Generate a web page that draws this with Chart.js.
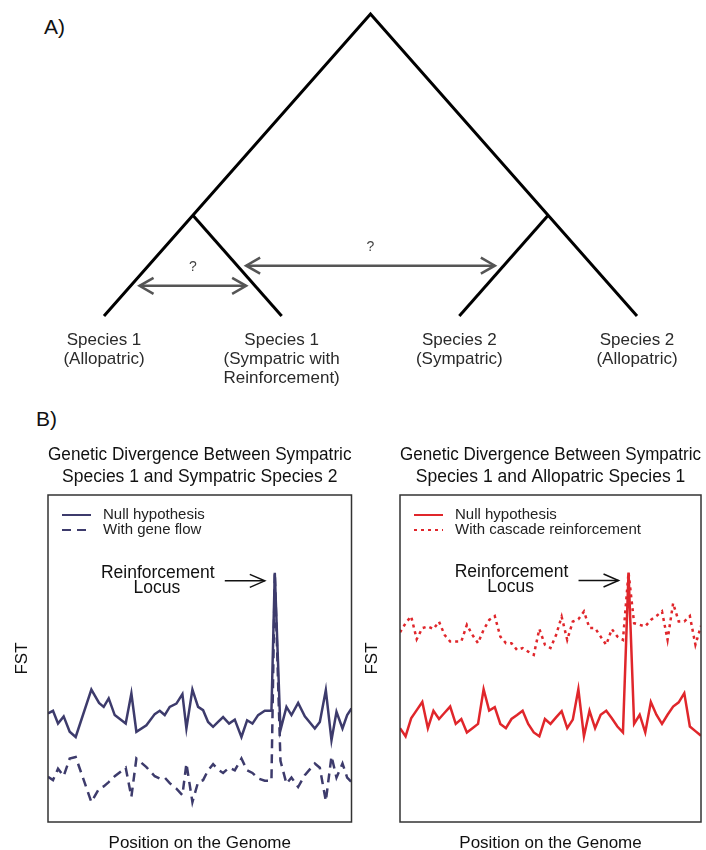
<!DOCTYPE html>
<html>
<head>
<meta charset="utf-8">
<script src="https://cdn.jsdelivr.net/npm/chart.js@4.4.1/dist/chart.umd.min.js"></script>
<style>
  html, body { margin: 0; padding: 0; background: #fff; overflow: hidden; }
  body { width: 706px; height: 850px; position: relative; font-family: "Liberation Sans", Arial, sans-serif; }
  .panel { position: absolute; font-size: 21px; line-height: 21px; color: #111; }
  canvas { position: absolute; }
</style>
</head>
<body>
<div class="panel" style="left:44px; top:16px;">A)</div>
<div class="panel" style="left:36px; top:408px;">B)</div>
<canvas id="tree" width="706" height="400" style="left:0; top:0; width:706px; height:400px;"></canvas>
<canvas id="left" width="356" height="414" style="left:0; top:440px; width:356px; height:414px;"></canvas>
<canvas id="right" width="354" height="414" style="left:352px; top:440px; width:354px; height:414px;"></canvas>
<script>
// ---------- panel A: tree (leaf positions 1..4, height in branch units) ----------
var leafPos = [1, 2, 3, 4];
var leafLabels = [
    ["Species 1", "(Allopatric)"],
    ["Species 1", "(Sympatric with", "Reinforcement)"],
    ["Species 2", "(Sympatric)"],
    ["Species 2", "(Allopatric)"]
];
var outerX = [1, 2.5, 4];
var outerY = [0, 1.5, 0];
var sisterLeftX = [1.5, 2];
var sisterLeftY = [0.5, 0];
var sisterRightX = [3.5, 3];
var sisterRightY = [0.5, 0];
var arrowShortX = [1.2, 1.8];
var arrowShortY = [0.15, 0.15];
var arrowLongX = [1.8, 3.2];
var arrowLongY = [0.25, 0.25];

// ---------- panel B, left: sympatric sp.1 vs sympatric sp.2 ----------
var posLeft = [0, 15, 30, 47, 65, 83, 130, 153, 167, 182, 200, 233, 250, 265, 295, 320, 335, 350, 365, 385,
    403, 415, 433, 450, 465, 480, 495, 510, 525, 543, 560, 580, 597, 613, 630, 650, 670, 680, 697, 715,
    730, 750, 770, 800, 815, 833, 850, 865, 883, 897, 910];
var nullLeft = [0.332, 0.340, 0.301, 0.323, 0.276, 0.260, 0.405, 0.364, 0.352, 0.378, 0.327, 0.301, 0.393, 0.276, 0.296, 0.330, 0.340, 0.327, 0.352, 0.362,
    0.391, 0.286, 0.405, 0.352, 0.342, 0.306, 0.291, 0.306, 0.321, 0.301, 0.313, 0.260, 0.311, 0.301, 0.327, 0.340, 0.340, 0.762, 0.281, 0.352,
    0.327, 0.364, 0.323, 0.286, 0.306, 0.403, 0.250, 0.337, 0.286, 0.327, 0.347];
var geneFlow = [0.138, 0.128, 0.163, 0.140, 0.194, 0.199, 0.061, 0.102, 0.109, 0.122, 0.140, 0.166, 0.077, 0.194, 0.168, 0.140, 0.133, 0.136, 0.119, 0.102,
    0.082, 0.179, 0.061, 0.122, 0.128, 0.158, 0.177, 0.160, 0.150, 0.166, 0.158, 0.194, 0.158, 0.150, 0.133, 0.126, 0.126, 0.762, 0.187, 0.117,
    0.136, 0.107, 0.143, 0.179, 0.166, 0.064, 0.201, 0.136, 0.179, 0.136, 0.122];

// ---------- panel B, right: sympatric sp.1 vs allopatric sp.1 ----------
var posRight = [0, 1, 2, 3, 4, 5, 6, 7, 8, 9, 10, 11, 12, 13, 14, 15, 16, 17, 18, 19, 20, 21, 22, 23, 24, 25, 26, 27,
    28, 29, 30, 31, 32, 33, 34, 35, 36, 37, 38, 39, 40, 41, 42, 43, 44, 45, 46, 47, 48, 49, 50, 51, 52, 53, 54];
var nullRight = [0.287, 0.262, 0.317, 0.342, 0.367, 0.287, 0.340, 0.315, 0.334, 0.353, 0.300, 0.315, 0.274, 0.287, 0.300, 0.406, 0.341, 0.351, 0.300, 0.287,
    0.315, 0.327, 0.340, 0.300, 0.274, 0.262, 0.315, 0.300, 0.320, 0.339, 0.287, 0.313, 0.406, 0.262, 0.340, 0.287, 0.328, 0.340, 0.317, 0.292,
    0.274, 0.763, 0.300, 0.328, 0.274, 0.367, 0.328, 0.300, 0.328, 0.353, 0.366, 0.394, 0.292, 0.278, 0.264];
var cascade = [0.580, 0.608, 0.629, 0.559, 0.593, 0.598, 0.590, 0.613, 0.572, 0.552, 0.552, 0.552, 0.603, 0.572, 0.547, 0.588, 0.618, 0.630, 0.567, 0.547,
    0.547, 0.526, 0.532, 0.521, 0.511, 0.590, 0.542, 0.532, 0.572, 0.628, 0.557, 0.613, 0.620, 0.644, 0.593, 0.593, 0.567, 0.542, 0.590, 0.567,
    0.557, 0.763, 0.608, 0.603, 0.598, 0.618, 0.630, 0.644, 0.557, 0.669, 0.613, 0.613, 0.630, 0.542, 0.600];

var FONT = "'Liberation Sans', Arial, sans-serif";
Chart.defaults.font.family = FONT;
Chart.defaults.color = "#111";

function pts(xs, ys) {
    return xs.map(function (x, i) { return { x: x, y: ys[i] }; });
}

function chevron(ctx, x, y, dir, len, half) {
    ctx.beginPath();
    ctx.moveTo(x + dir * len, y - half);
    ctx.lineTo(x, y);
    ctx.lineTo(x + dir * len, y + half);
    ctx.stroke();
}

// arrow heads, "?" marks and species names for the tree
var treeDecor = {
    id: "treeDecor",
    afterDraw: function (chart) {
        var ctx = chart.ctx, xs = chart.scales.x, ys = chart.scales.y;
        ctx.save();
        chart.data.datasets.forEach(function (ds, i) {
            if (!ds.arrow) return;
            var el = chart.getDatasetMeta(i).data;
            var a = el[0], b = el[el.length - 1];
            ctx.strokeStyle = ds.borderColor;
            ctx.lineWidth = ds.borderWidth;
            ctx.lineJoin = "miter";
            chevron(ctx, a.x, a.y, 1, 14, 8);
            chevron(ctx, b.x, b.y, -1, 14, 8);
            ctx.fillStyle = "#444";
            ctx.font = "14px " + FONT;
            ctx.textAlign = "center";
            ctx.textBaseline = "middle";
            ctx.fillText(ds.note, (a.x + b.x) / 2, a.y - 19);
        });
        ctx.fillStyle = "#2a2a2a";
        ctx.font = "17px " + FONT;
        ctx.textAlign = "center";
        ctx.textBaseline = "middle";
        var y0 = ys.getPixelForValue(0);
        leafPos.forEach(function (p, i) {
            var x = xs.getPixelForValue(p);
            leafLabels[i].forEach(function (line, j) {
                ctx.fillText(line, x, y0 + 24 + j * 19);
            });
        });
        ctx.restore();
    }
};

function branch(xs, ys) {
    return { data: pts(xs, ys), showLine: true, borderColor: "#000", borderWidth: 3, pointRadius: 0, clip: false };
}
function arrow(xs, ys) {
    return { data: pts(xs, ys), showLine: true, borderColor: "#555", borderWidth: 2.5, pointRadius: 0, clip: false, arrow: true, note: "?" };
}

new Chart(document.getElementById("tree"), {
    type: "scatter",
    data: {
        datasets: [
            branch(outerX, outerY),
            branch(sisterLeftX, sisterLeftY),
            branch(sisterRightX, sisterRightY),
            arrow(arrowShortX, arrowShortY),
            arrow(arrowLongX, arrowLongY)
        ]
    },
    options: {
        responsive: false,
        animation: false,
        events: [],
        layout: { padding: { left: 104, right: 69, top: 14, bottom: 84 } },
        scales: {
            x: { type: "linear", display: false, min: 1, max: 4 },
            y: { type: "linear", display: false, min: 0, max: 1.5 }
        },
        plugins: { legend: { display: false }, tooltip: { enabled: false } }
    },
    plugins: [treeDecor]
});

// box, in-plot legend and the reinforcement locus note
var plotDecor = {
    id: "plotDecor",
    afterDraw: function (chart) {
        var ctx = chart.ctx, a = chart.chartArea;
        ctx.save();
        ctx.strokeStyle = "#333";
        ctx.lineWidth = 1.5;
        ctx.strokeRect(a.left, a.top, a.right - a.left, a.bottom - a.top);

        ctx.font = "15px " + FONT;
        ctx.textAlign = "left";
        ctx.textBaseline = "middle";
        chart.data.datasets.forEach(function (ds, i) {
            var y = a.top + 20 + i * 15, x = a.left + 14;
            ctx.beginPath();
            ctx.setLineDash(ds.borderDash || []);
            ctx.strokeStyle = ds.borderColor;
            ctx.lineWidth = 2;
            ctx.moveTo(x, y);
            ctx.lineTo(x + 29, y);
            ctx.stroke();
            ctx.setLineDash([]);
            ctx.fillStyle = "#222";
            ctx.fillText(ds.label, x + 41, y);
        });

        var d = chart.data.datasets[0].data, k = 0;
        d.forEach(function (p, i) { if (p.y > d[k].y) k = i; });
        var pk = chart.getDatasetMeta(0).data[k];
        ctx.fillStyle = "#111";
        ctx.font = "17.5px " + FONT;
        ctx.textAlign = "center";
        ctx.fillText("Reinforcement", pk.x - 117, pk.y);
        ctx.fillText("Locus", pk.x - 118, pk.y + 15);
        ctx.strokeStyle = "#111";
        ctx.lineWidth = 1.5;
        ctx.beginPath();
        ctx.moveTo(pk.x - 50, pk.y + 8);
        ctx.lineTo(pk.x - 10, pk.y + 8);
        ctx.stroke();
        chevron(ctx, pk.x - 10, pk.y + 8, -1, 15, 6.5);
        ctx.restore();
    }
};

function genomePlot(id, title, pos, xMax, sets, fstPad, padRight) {
    return new Chart(document.getElementById(id), {
        type: "line",
        data: {
            datasets: sets.map(function (s) {
                return {
                    label: s.label, data: pts(pos, s.values), borderColor: s.color, borderWidth: 2.5,
                    borderDash: s.dash, pointRadius: 0, tension: 0, borderJoinStyle: "miter"
                };
            })
        },
        options: {
            responsive: false,
            animation: false,
            events: [],
            layout: { padding: { left: 0, right: padRight, top: 0, bottom: 0 } },
            scales: {
                x: {
                    type: "linear", min: 0, max: xMax,
                    ticks: { display: false }, grid: { display: false }, border: { display: false },
                    title: { display: true, text: "Position on the Genome", font: { size: 17 }, padding: { top: 0, bottom: 0.8 } },
                    afterFit: function (s) { s.height = 32; }
                },
                y: {
                    min: 0, max: 1,
                    ticks: { display: false }, grid: { display: false }, border: { display: false },
                    title: { display: true, text: "FST", font: { size: 17 }, padding: { top: fstPad, bottom: 0 } },
                    afterFit: function (s) { s.width = 48; }
                }
            },
            plugins: {
                legend: { display: false },
                tooltip: { enabled: false },
                title: {
                    display: true, text: title, fullSize: false,
                    font: { size: 17.5, weight: "normal", lineHeight: 22 / 17.5 },
                    padding: { top: 4, bottom: 7 }, color: "#111"
                }
            }
        },
        plugins: [plotDecor]
    });
}

genomePlot("left",
    ["Genetic Divergence Between Sympatric", "Species 1 and Sympatric Species 2"],
    posLeft, 910,
    [
        { label: "Null hypothesis", values: nullLeft, color: "#3d3b6c", dash: [] },
        { label: "With gene flow", values: geneFlow, color: "#3d3b6c", dash: [9, 6] }
    ], 11.8, 4.5);

genomePlot("right",
    ["Genetic Divergence Between Sympatric", "Species 1 and Allopatric Species 1"],
    posRight, 54,
    [
        { label: "Null hypothesis", values: nullRight, color: "#e0262b", dash: [] },
        { label: "With cascade reinforcement", values: cascade, color: "#e0262b", dash: [3, 4] }
    ], 9.8, 5);
</script>
</body>
</html>
